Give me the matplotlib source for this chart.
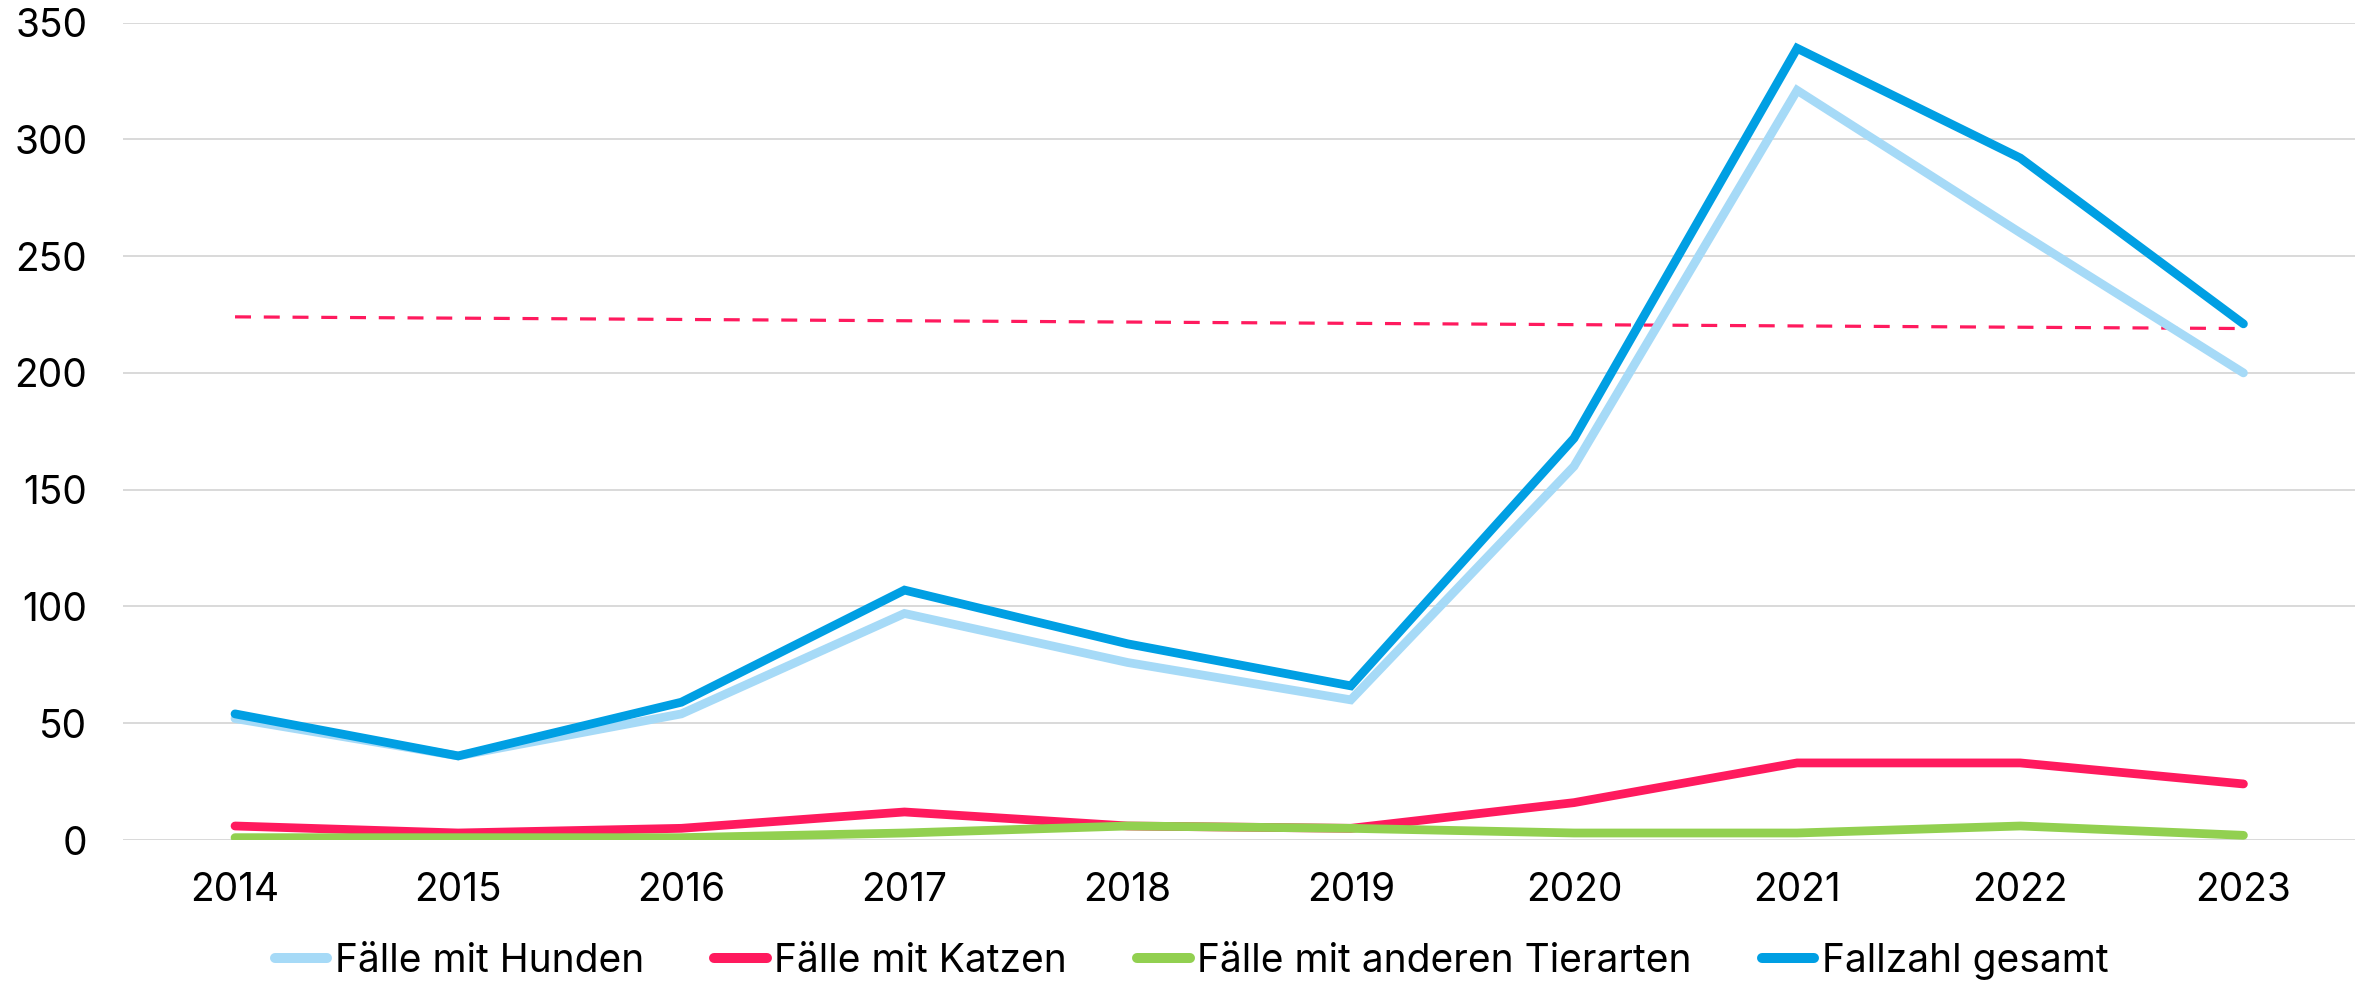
import matplotlib
matplotlib.use("Agg")
import matplotlib.pyplot as plt
import numpy as np

plt.rcParams['font.family'] = ['Inter', 'DejaVu Sans']

years = ["2014", "2015", "2016", "2017", "2018", "2019", "2020", "2021", "2022", "2023"]
hunde = [52, 36, 54, 97, 76, 60, 160, 321, 260, 200]
katzen = [6, 3, 5, 12, 6, 5, 16, 33, 33, 24]
andere = [1, 1, 1, 3, 6, 5, 3, 3, 6, 2]
gesamt = [54, 36, 59, 107, 84, 66, 172, 339, 292, 221]
trend = [224, 219]  # dashed trend line, start and end

c_hunde = "#A6DAF7"
c_katzen = "#FF1A5E"
c_andere = "#92D050"
c_gesamt = "#009FE3"

fig = plt.figure(figsize=(23.74, 9.82), dpi=100)
ax = fig.add_axes([0.052, 0.1446, 0.940, 0.8324])

x = np.arange(len(years))
lw = 6.3
ax.plot(x, hunde, color=c_hunde, lw=lw, solid_capstyle='round', solid_joinstyle='miter', label="Fälle mit Hunden", zorder=3)
ax.plot(x, katzen, color=c_katzen, lw=lw, solid_capstyle='round', solid_joinstyle='miter', label="Fälle mit Katzen", zorder=3)
ax.plot(x, andere, color=c_andere, lw=lw, solid_capstyle='round', solid_joinstyle='miter', label="Fälle mit anderen Tierarten", zorder=3)
ax.plot(x, gesamt, color=c_gesamt, lw=lw, solid_capstyle='round', solid_joinstyle='miter', label="Fallzahl gesamt", zorder=3)
ax.plot([x[0], x[-1]], trend, color=c_katzen, lw=2.3, ls=(0, (5, 4)), zorder=2)

ax.set_xlim(-0.5, len(years) - 0.5)
ax.set_ylim(0, 350)
ax.set_yticks(np.arange(0, 351, 50))
ax.set_xticks(x)
ax.set_xticklabels(years)
ax.grid(axis='y', color='#D9D9D9', lw=1.4)
ax.set_axisbelow(True)
for s in ax.spines.values():
    s.set_visible(False)
ax.tick_params(axis='both', length=0, labelsize=28, colors='black')
ax.tick_params(axis='y', pad=26)
ax.tick_params(axis='x', pad=23)

leg = fig.legend(loc='center', bbox_to_anchor=(0.502, 0.021), ncol=4, frameon=False,
                 fontsize=28, handlelength=1.35, handletextpad=0.2, columnspacing=1.8)
for h in leg.get_lines():
    h.set_linewidth(7.2)
    h.set_solid_capstyle('round')

fig.savefig("out.png", dpi=100)
